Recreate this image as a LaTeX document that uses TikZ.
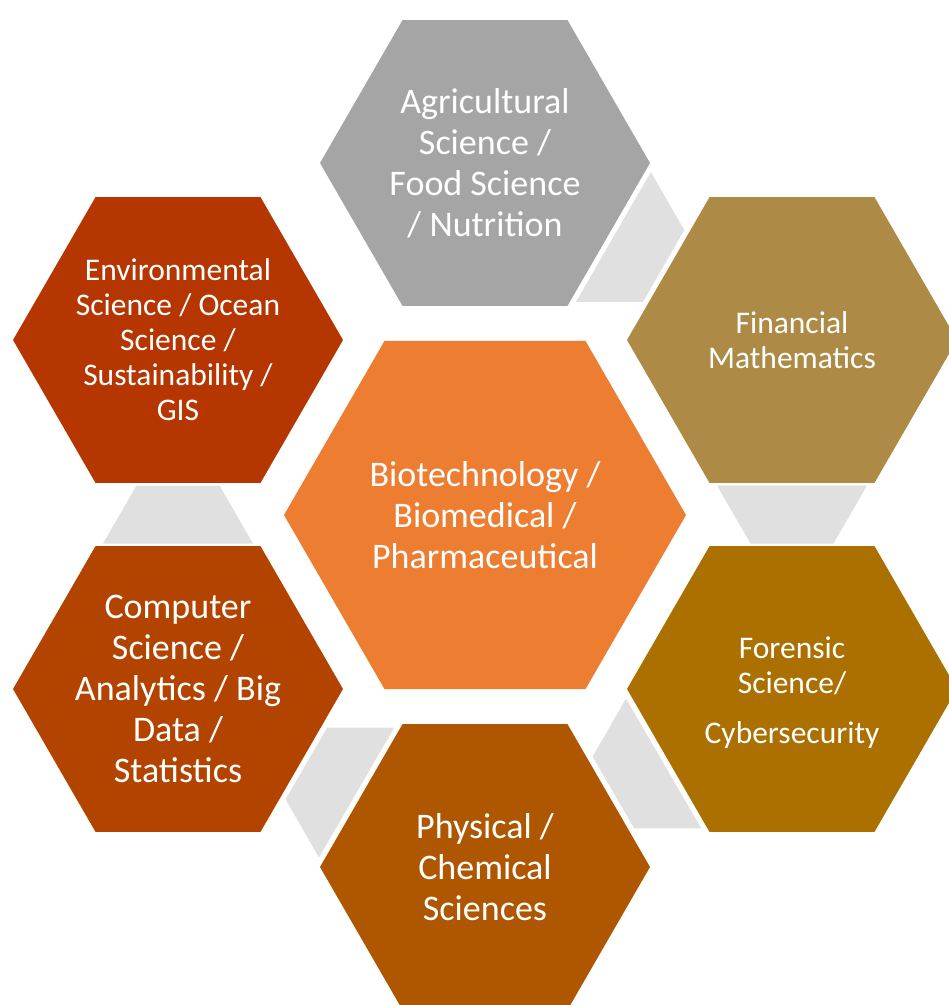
\documentclass[tikz,border=0pt]{standalone}
\usepackage{fontspec}
\setmainfont{Carlito}
\usetikzlibrary{shapes.geometric,calc}
\definecolor{cgray}{HTML}{A5A5A5}
\definecolor{ccenter}{HTML}{ED7D31}
\definecolor{cfin}{HTML}{AD8B46}
\definecolor{cfor}{HTML}{AB7000}
\definecolor{cphy}{HTML}{AE5700}
\definecolor{ccomp}{HTML}{B34400}
\definecolor{cenv}{HTML}{B53600}
\definecolor{cconn}{HTML}{E0E0E0}
\newcommand\hexconn[2]{%
  \path ($(#1.center)!0.5!(#2.center)$) coordinate (m);
  \path ($(m)!29pt!180:(#2.center)$) coordinate (l);
  \path ($(m)!29pt!(#2.center)$) coordinate (s);
  \fill[connfill] ($(l)!75pt!90:(#2.center)$) -- ($(l)!75pt!-90:(#2.center)$)
    -- ($(s)!41.5pt!-90:(#2.center)$) -- ($(s)!41.5pt!90:(#2.center)$) -- cycle;}
\begin{document}
\begin{tikzpicture}[x=1pt,y=-1pt,
  hexa/.style={regular polygon, regular polygon sides=6, minimum size=330pt, inner sep=0pt, draw=none},
  lab/.style={text=white, align=center, inner sep=0pt, font=\fontsize{36}{41}\selectfont},
  labs/.style={text=white, align=center, inner sep=0pt, font=\fontsize{31.5}{35}\selectfont},
  connfill/.style={fill=cconn}]
\useasboundingbox (0,0) rectangle (949,1005);
\clip (0,0) rectangle (949,1005);
\node[hexa, fill=ccenter, minimum size=402pt] (bio) at (485,515) {};
\node[hexa, fill=cgray] (agri) at (485,163) {};
\node[hexa, fill=cfin] (fin) at (792,340) {};
\node[hexa, fill=cfor] (for) at (792,689) {};
\node[hexa, fill=cphy] (phy) at (485,867) {};
\node[hexa, fill=ccomp] (comp) at (178,689) {};
\node[hexa, fill=cenv] (env) at (178,340) {};
\hexconn{agri}{fin}
\hexconn{fin}{for}
\hexconn{for}{phy}
\hexconn{phy}{comp}
\hexconn{comp}{env}
\node[lab] (tbio) at (bio) {Biotechnology /\\Biomedical /\\Pharmaceutical};
\node[lab] (tagri) at (agri) {Agricultural\\Science /\\Food Science\\/ Nutrition};
\node[labs] (tfin) at (fin) {Financial\\Mathematics};
\node[labs] (tfor) at ([yshift=-4pt]for) {Forensic\\Science/\\[15pt]Cybersecurity};
\node[lab] (tphy) at (phy) {Physical /\\Chemical\\Sciences};
\node[lab] (tcomp) at (comp) {Computer\\Science /\\Analytics / Big\\Data /\\Statistics};
\node[labs] (tenv) at (env) {Environmental\\Science / Ocean\\Science /\\Sustainability /\\GIS};
\end{tikzpicture}
\end{document}
